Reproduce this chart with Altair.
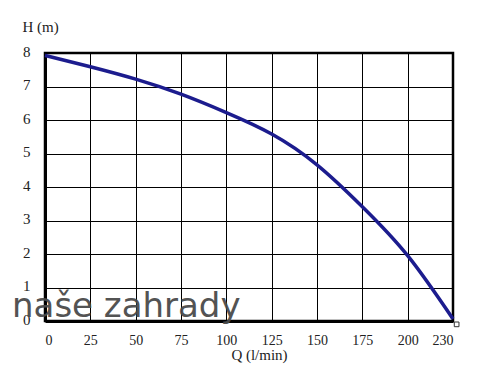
import altair as alt
import pandas as pd

# Pump curve
q_values = [0, 25, 50, 75, 100, 125, 150, 175, 200, 225]
h_values = [7.93, 7.59, 7.22, 6.77, 6.22, 5.58, 4.66, 3.41, 1.95, 0.06]
x_ticks = [0, 25, 50, 75, 100, 125, 150, 175, 200, 225]
y_ticks = [0, 1, 2, 3, 4, 5, 6, 7, 8]
last_tick_label = "230"
end_marker_q = [227]
end_marker_h = [-0.1]
watermark = ["naše zahrady"]

curve = pd.DataFrame({"Q": q_values, "H": h_values})
marker = pd.DataFrame({"Q": end_marker_q, "H": end_marker_h})
wm = pd.DataFrame({"t": watermark})

xscale = alt.Scale(domain=[0, 225], nice=False, zero=False)
yscale = alt.Scale(domain=[0, 8], nice=False)


def make_x_axis():
    return alt.Axis(
        values=x_ticks,
        labelExpr=f"datum.value == 225 ? '{last_tick_label}' : datum.label",
        grid=True, gridColor="black", gridWidth=1, gridOpacity=1,
        ticks=False, domain=True, domainColor="black", domainWidth=3,
        labelFont="Liberation Serif", labelFontSize=14, labelColor="#222",
        labelPadding=12, labelFlush=True, labelOverlap=False,
        title="Q (l/min)", titleFont="Liberation Serif", titleFontSize=15,
        titleFontWeight="normal", titleColor="#222",
        titleX=214, titleY=38, titleAlign="center", titleBaseline="alphabetic",
    )


def make_y_axis():
    return alt.Axis(
        values=y_ticks,
        grid=True, gridColor="black", gridWidth=1, gridOpacity=1,
        ticks=False, domain=True, domainColor="black", domainWidth=3,
        labelFont="Liberation Serif", labelFontSize=15, labelColor="#222",
        labelPadding=15, labelOffset=-2, labelOverlap=False,
        title="H (m)", titleFont="Liberation Serif", titleFontSize=15,
        titleFontWeight="normal", titleColor="#222",
        titleAngle=0, titleX=-23, titleY=-22, titleAlign="left",
        titleBaseline="alphabetic",
    )


line = alt.Chart(curve).mark_line(
    color="#1c1c8e", strokeWidth=3.5, interpolate="natural"
).encode(
    x=alt.X("Q:Q", scale=xscale, axis=make_x_axis()),
    y=alt.Y("H:Q", scale=yscale, axis=make_y_axis()),
)

end_pt = alt.Chart(marker).mark_point(
    shape="square", size=22, filled=True, fill="white",
    stroke="#333", strokeWidth=1, clip=False, opacity=1
).encode(
    x=alt.X("Q:Q", scale=xscale, axis=make_x_axis()),
    y=alt.Y("H:Q", scale=yscale, axis=make_y_axis()),
)

text = alt.Chart(wm).mark_text(
    font="DejaVu Sans", fontSize=34, color="#4a4a4a", opacity=0.95,
    align="left", baseline="alphabetic"
).encode(
    text="t:N", x=alt.value(-33), y=alt.value(264)
)

chart = alt.layer(line, text, end_pt).properties(
    width=408, height=268,
    padding={"left": 45, "top": 53, "right": 35, "bottom": 51},
    autosize=alt.AutoSizeParams(type="none"),
    background="white",
).configure_view(stroke="black", strokeWidth=2.5)

chart.save("out.html", embed_options={"renderer": "svg", "actions": False})
